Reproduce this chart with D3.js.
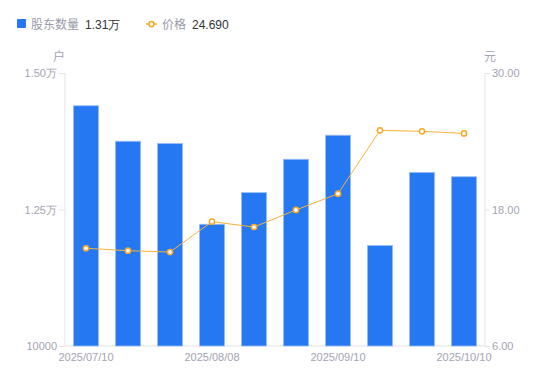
<!DOCTYPE html>
<html>
<head>
<meta charset="utf-8">
<script src="https://cdn.jsdelivr.net/npm/d3@7"></script>
<style>
  body { margin: 0; background: #fff; }
  svg { font-family: "Noto Sans CJK SC", "Liberation Sans", sans-serif; }
</style>
</head>
<body>
<svg id="chart" width="550" height="381"></svg>
<script>
// data
const dates = ["2025/07/10", "2025/07/18", "2025/07/31", "2025/08/08", "2025/08/20",
  "2025/08/29", "2025/09/10", "2025/09/19", "2025/09/30", "2025/10/10"];
const holders = [14400, 13750, 13710, 12230, 12810, 13420, 13860, 11840, 13180, 13100];
const prices = [14.59, 14.38, 14.26, 16.93, 16.46, 17.96, 19.39, 24.96, 24.87, 24.69];
const xTickDates = ["2025/07/10", "2025/08/08", "2025/09/10", "2025/10/10"];
const leftTicks = [10000, 12500, 15000];
const leftTickLabels = ["10000", "1.25万", "1.50万"];
const rightTicks = [6, 18, 30];

const margin = { top: 73, right: 65, bottom: 35, left: 65 };
const width = 550 - margin.left - margin.right;
const height = 381 - margin.top - margin.bottom;

const svg = d3.select("#chart");
const g = svg.append("g")
  .attr("transform", "translate(" + margin.left + "," + margin.top + ")");

const axisColor = "#e3e3e6";
const labelColor = "#a3a3b3";

// scales
const x = d3.scaleBand().domain(dates).range([0, width]).paddingInner(0.4).paddingOuter(0.2);
const yL = d3.scaleLinear().domain([10000, 15000]).range([height, 0]);
const yR = d3.scaleLinear().domain([6, 30]).range([height, 0]);

// left axis
const leftAxis = g.append("g")
  .call(d3.axisLeft(yL).tickValues(leftTicks).tickSize(6).tickPadding(2)
    .tickFormat((d, i) => leftTickLabels[i]));
// right axis
const rightAxis = g.append("g")
  .attr("transform", "translate(" + width + ",0)")
  .call(d3.axisRight(yR).tickValues(rightTicks).tickSize(5).tickPadding(2)
    .tickFormat(d3.format(".2f")));
// bottom axis
const bottomAxis = g.append("g")
  .attr("transform", "translate(0," + height + ")")
  .call(d3.axisBottom(x).tickValues(xTickDates).tickSize(0).tickPadding(7));

[leftAxis, rightAxis, bottomAxis].forEach(a => {
  a.select(".domain").attr("stroke", axisColor);
  a.selectAll(".tick line").attr("stroke", axisColor);
  a.selectAll("text").attr("fill", labelColor).style("font-size", "11px")
    .style("font-family", "'Liberation Sans', sans-serif");
});
bottomAxis.select(".domain").attr("d", "M0,0H" + width);
leftAxis.select(".domain").attr("d", "M0,0V" + height);
rightAxis.select(".domain").attr("d", "M0,0V" + height);

// axis units
g.append("text").attr("x", -6).attr("y", -12).attr("text-anchor", "middle")
  .attr("fill", labelColor).style("font-size", "12px").text("户");
g.append("text").attr("x", width + 5).attr("y", -12).attr("text-anchor", "middle")
  .attr("fill", labelColor).style("font-size", "12px").text("元");

// bars
g.selectAll(".bar")
  .data(holders)
  .enter()
  .append("rect")
  .attr("class", "bar")
  .attr("x", (d, i) => x(dates[i]))
  .attr("y", d => yL(d))
  .attr("width", x.bandwidth())
  .attr("height", d => height - yL(d))
  .attr("fill", "#2677f2")
  .attr("stroke", "#9cc0f8")
  .attr("stroke-width", 0.8);

// price line
const line = d3.line()
  .x((d, i) => x(dates[i]) + x.bandwidth() / 2)
  .y(d => yR(d));
g.append("path")
  .datum(prices)
  .attr("d", line)
  .attr("fill", "none")
  .attr("stroke", "#f7b23b")
  .attr("stroke-width", 1);
g.selectAll(".pt")
  .data(prices)
  .enter()
  .append("circle")
  .attr("class", "pt")
  .attr("cx", (d, i) => x(dates[i]) + x.bandwidth() / 2)
  .attr("cy", d => yR(d))
  .attr("r", 2.6)
  .attr("fill", "#fff")
  .attr("stroke", "#f7a823")
  .attr("stroke-width", 1.5);

// legend
const legend = svg.append("g").attr("transform", "translate(0,24)");
legend.append("rect").attr("x", 17).attr("y", -5).attr("width", 9).attr("height", 9)
  .attr("rx", 1).attr("fill", "#2677f2");
legend.append("text").attr("x", 31).attr("y", 4.5).attr("fill", "#999aaa")
  .style("font-size", "12px").text("股东数量");
legend.append("text").attr("x", 85).attr("y", 4.5).attr("fill", "#333")
  .style("font-size", "12px").style("font-family", "'Liberation Sans', sans-serif")
  .text(d3.format(".2f")(holders[holders.length - 1] / 10000) + "万");
legend.append("line").attr("x1", 146).attr("x2", 157).attr("y1", 0).attr("y2", 0)
  .attr("stroke", "#f7b23b").attr("stroke-width", 1.5);
legend.append("circle").attr("cx", 151.5).attr("cy", 0).attr("r", 2.6)
  .attr("fill", "#fff").attr("stroke", "#f7a823").attr("stroke-width", 1.5);
legend.append("text").attr("x", 162).attr("y", 4.5).attr("fill", "#999aaa")
  .style("font-size", "12px").text("价格");
legend.append("text").attr("x", 192).attr("y", 4.5).attr("fill", "#333")
  .style("font-size", "12px").style("font-family", "'Liberation Sans', sans-serif")
  .text(d3.format(".3f")(prices[prices.length - 1]));
</script>
</body>
</html>
